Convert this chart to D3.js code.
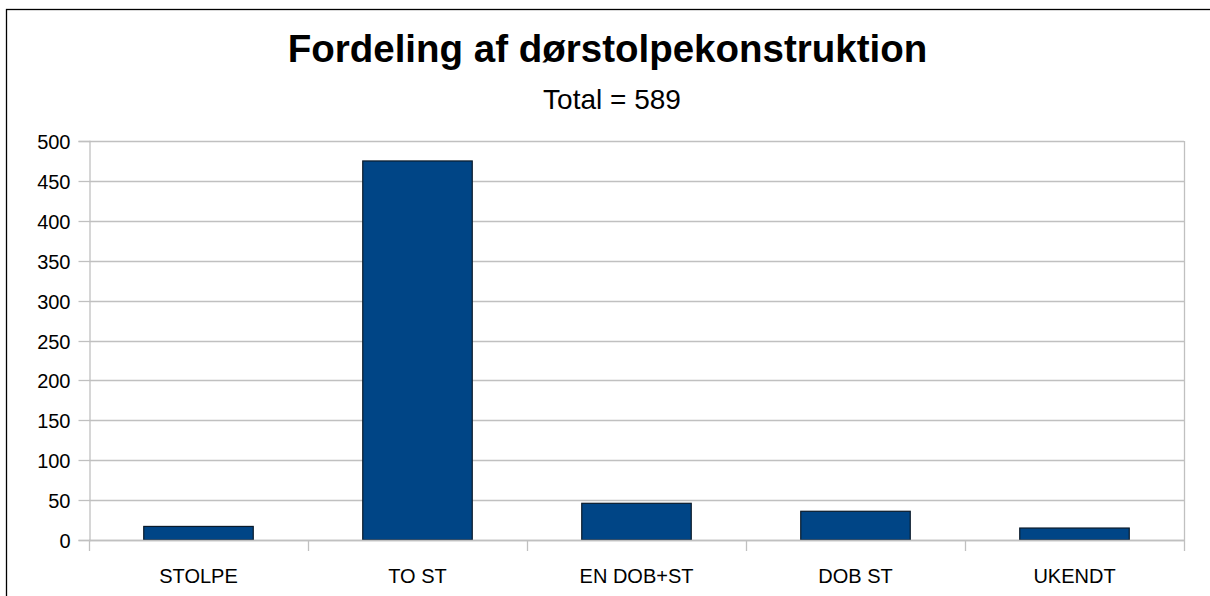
<!DOCTYPE html>
<html>
<head>
<meta charset="utf-8">
<script src="https://cdn.jsdelivr.net/npm/d3@7"></script>
<style>
  html, body { margin: 0; padding: 0; background: #fff; }
  svg { display: block; }
  text { font-family: "Liberation Sans", Arial, sans-serif; fill: #000; }
</style>
</head>
<body>
<svg id="chart" width="1210" height="596"></svg>
<script>
const categories = ["STOLPE", "TO ST", "EN DOB+ST", "DOB ST", "UKENDT"];
const values = [17, 475, 46, 36, 15];
const yTicks = [0, 50, 100, 150, 200, 250, 300, 350, 400, 450, 500];
const titleText = "Fordeling af dørstolpekonstruktion";
const subtitleText = "Total = 589";

const svg = d3.select("#chart");
const W = 1210, H = 596;
const plot = { left: 89, right: 1184, top: 141, bottom: 540 };

// outer border
svg.append("rect")
  .attr("x", 6.5).attr("y", 9.5)
  .attr("width", W + 10).attr("height", H + 10)
  .attr("fill", "none").attr("stroke", "#000").attr("stroke-width", 1.3);

const x = d3.scaleBand().domain(categories).range([plot.left, plot.right]).paddingInner(0).paddingOuter(0);
const y = d3.scaleLinear().domain([0, 500]).range([plot.bottom, plot.top]);

const gridColor = "#c0c0c0";

// horizontal grid lines
svg.append("g").selectAll("line").data(yTicks).join("line")
  .attr("x1", plot.left).attr("x2", plot.right)
  .attr("y1", d => Math.round(y(d)) + 0.5).attr("y2", d => Math.round(y(d)) + 0.5)
  .attr("stroke", gridColor).attr("stroke-width", 1.3);

// right border of plot
svg.append("line")
  .attr("x1", plot.right + 0.5).attr("x2", plot.right + 0.5)
  .attr("y1", plot.top).attr("y2", plot.bottom)
  .attr("stroke", gridColor).attr("stroke-width", 1.3);

// y axis
const yAxis = d3.axisLeft(y).tickValues(yTicks).tickSize(11).tickPadding(8).tickFormat(d3.format("d"));
const gy = svg.append("g").attr("transform", `translate(${plot.left + 0.5},0)`).call(yAxis);
gy.select(".domain").attr("stroke", gridColor).attr("stroke-width", 1.3);
gy.selectAll(".tick line").attr("stroke", gridColor).attr("stroke-width", 1.3);
gy.selectAll(".tick text").attr("font-size", 20).attr("font-family", "Liberation Sans, Arial, sans-serif").attr("fill", "#000").attr("dy", "0.36em");
gy.selectAll(".tick").attr("transform", d => `translate(0,${Math.round(y(d)) + 0.5})`);

// bars
const bw = x.bandwidth() * 0.5;
svg.append("g").selectAll("rect").data(values).join("rect")
  .attr("x", (d, i) => x(categories[i]) + (x.bandwidth() - bw) / 2)
  .attr("y", d => y(d))
  .attr("width", bw)
  .attr("height", d => y(0) - y(d))
  .attr("fill", "#004586")
  .attr("stroke", "#0a1a2a").attr("stroke-width", 1.2);

// x axis
const xAxis = d3.axisBottom(x).tickSize(0).tickPadding(0);
const gx = svg.append("g").attr("transform", `translate(0,${plot.bottom + 0.5})`).call(xAxis);
gx.select(".domain").remove();
gx.selectAll(".tick text").attr("font-size", 20).attr("font-family", "Liberation Sans, Arial, sans-serif")
  .attr("fill", "#000").attr("dy", null).attr("y", 42.5);

svg.append("line")
  .attr("x1", plot.left).attr("x2", plot.right + 1)
  .attr("y1", plot.bottom + 0.5).attr("y2", plot.bottom + 0.5)
  .attr("stroke", gridColor).attr("stroke-width", 1.3);

// x ticks at band boundaries
const boundaries = categories.map(c => x(c)).concat([plot.right]);
svg.append("g").selectAll("line").data(boundaries).join("line")
  .attr("x1", d => Math.round(d) + 0.5).attr("x2", d => Math.round(d) + 0.5)
  .attr("y1", plot.bottom).attr("y2", plot.bottom + 11)
  .attr("stroke", gridColor).attr("stroke-width", 1.3);

// titles
svg.append("text").attr("x", 607.5).attr("y", 62)
  .attr("text-anchor", "middle").attr("font-size", 38.5).attr("font-weight", "bold")
  .text(titleText);
svg.append("text").attr("x", 612).attr("y", 109)
  .attr("text-anchor", "middle").attr("font-size", 28)
  .text(subtitleText);
</script>
</body>
</html>
